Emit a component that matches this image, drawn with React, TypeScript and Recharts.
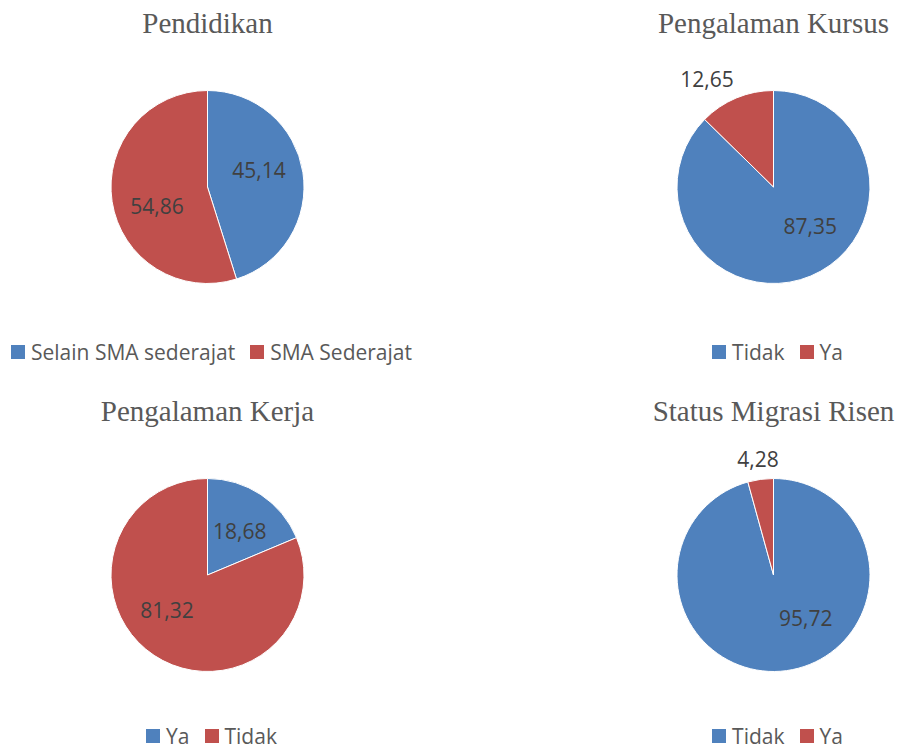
import { Cell, Pie, PieChart } from "recharts";

// Four small pie charts (2x2), Excel-style: serif titles, value labels with
// decimal comma, legend under each pie.

const BLUE = "#4F81BD";
const RED = "#C0504D";

const pendidikanNames = ["Selain SMA sederajat", "SMA Sederajat"];
const pendidikanValues = [45.14, 54.86];

const kursusNames = ["Tidak", "Ya"];
const kursusValues = [87.35, 12.65];

const kerjaNames = ["Ya", "Tidak"];
const kerjaValues = [18.68, 81.32];

const migrasiNames = ["Tidak", "Ya"];
const migrasiValues = [95.72, 4.28];

// label placement tweaks (degrees, clockwise) to mimic Excel "best fit"
const pendidikanLabelTurn = [-9, -12];
const kursusLabelTurn = [-20, -9];
const kerjaLabelTurn = [3, 15];
const migrasiLabelTurn = [-29, 0];

const LABEL_FONT = 21;
const SANS = "'Open Sans', 'Noto Sans', sans-serif";
const SERIF = "'Liberation Serif', 'Times New Roman', serif";
const RADIUS = 96.5;

const fmt = (v: number) => v.toFixed(2).replace(".", ",");

function makeLabel(turns: number[]) {
  return (props: any) => {
    const { cx, cy, midAngle, outerRadius, index, value } = props;
    const text = fmt(value);
    const cw = ((90 - midAngle + (turns[index] ?? 0)) * Math.PI) / 180;
    const sx = Math.sin(cw);
    const sy = -Math.cos(cw);
    let d = outerRadius * 0.56;
    if (value < 15) {
      // small slice: label sits just outside the rim
      const digits = text.replace(",", "").length;
      const hw = ((digits * 0.572 + 0.26) * LABEL_FONT) / 2;
      const hh = 9;
      d = outerRadius + 8 + Math.abs(sx) * hw + Math.abs(sy) * hh;
    }
    const x = cx + d * sx;
    const y = cy + d * sy + 0.357 * LABEL_FONT;
    return (
      <text
        key={`lbl-${index}`}
        x={x}
        y={y}
        textAnchor="middle"
        fill="#404040"
        fontFamily={SANS}
        fontSize={LABEL_FONT}
      >
        {text}
      </text>
    );
  };
}

function PiePanel({
  title,
  names,
  values,
  turns,
  left,
  top,
  height,
  cx,
  legendTop,
}: {
  title: string;
  names: string[];
  values: number[];
  turns: number[];
  left: number;
  top: number;
  height: number;
  cx: number;
  legendTop: number;
}) {
  const data = names.map((name, i) => ({ name, value: values[i] }));
  const colors = [BLUE, RED];
  return (
    <div style={{ position: "absolute", left, top, width: 449, height }}>
      <div
        style={{
          position: "absolute",
          left: cx - 200,
          top: 9,
          width: 400,
          textAlign: "center",
          fontFamily: SERIF,
          fontSize: 29,
          lineHeight: "29px",
          color: "#595959",
          whiteSpace: "nowrap",
        }}
      >
        {title}
      </div>
      <PieChart width={449} height={height} margin={{ top: 0, right: 0, bottom: 0, left: 0 }}>
        <Pie
          data={data}
          dataKey="value"
          nameKey="name"
          cx={cx}
          cy={187}
          outerRadius={RADIUS}
          startAngle={90}
          endAngle={-270}
          stroke="#ffffff"
          strokeWidth={1}
          label={makeLabel(turns)}
          labelLine={false}
          isAnimationActive={false}
        >
          {data.map((d, i) => (
            <Cell key={d.name} fill={colors[i]} />
          ))}
        </Pie>
      </PieChart>
      <div
        style={{
          position: "absolute",
          left: cx + 4 - 250,
          top: legendTop,
          width: 500,
          height: 18,
          display: "flex",
          justifyContent: "center",
          alignItems: "center",
          gap: 15,
          fontFamily: SANS,
          fontSize: LABEL_FONT,
          lineHeight: "18px",
          color: "#595959",
          whiteSpace: "nowrap",
        }}
      >
        {names.map((n, i) => (
          <div key={n} style={{ display: "flex", alignItems: "center", gap: 6 }}>
            <span style={{ width: 14, height: 14, background: colors[i], display: "inline-block" }} />
            <span>{n}</span>
          </div>
        ))}
      </div>
    </div>
  );
}

export default function App() {
  return (
    <div style={{ position: "relative", width: 898, height: 751, background: "#fff", overflow: "hidden" }}>
      <style>{`body{margin:0}`}</style>
      <PiePanel title="Pendidikan" names={pendidikanNames} values={pendidikanValues} turns={pendidikanLabelTurn} left={0} top={0} height={388} cx={207.5} legendTop={343} />
      <PiePanel title="Pengalaman Kursus" names={kursusNames} values={kursusValues} turns={kursusLabelTurn} left={449} top={0} height={388} cx={324.5} legendTop={343} />
      <PiePanel title="Pengalaman Kerja" names={kerjaNames} values={kerjaValues} turns={kerjaLabelTurn} left={0} top={388} height={363} cx={207.5} legendTop={339} />
      <PiePanel title="Status Migrasi Risen" names={migrasiNames} values={migrasiValues} turns={migrasiLabelTurn} left={449} top={388} height={363} cx={324.5} legendTop={339} />
    </div>
  );
}
